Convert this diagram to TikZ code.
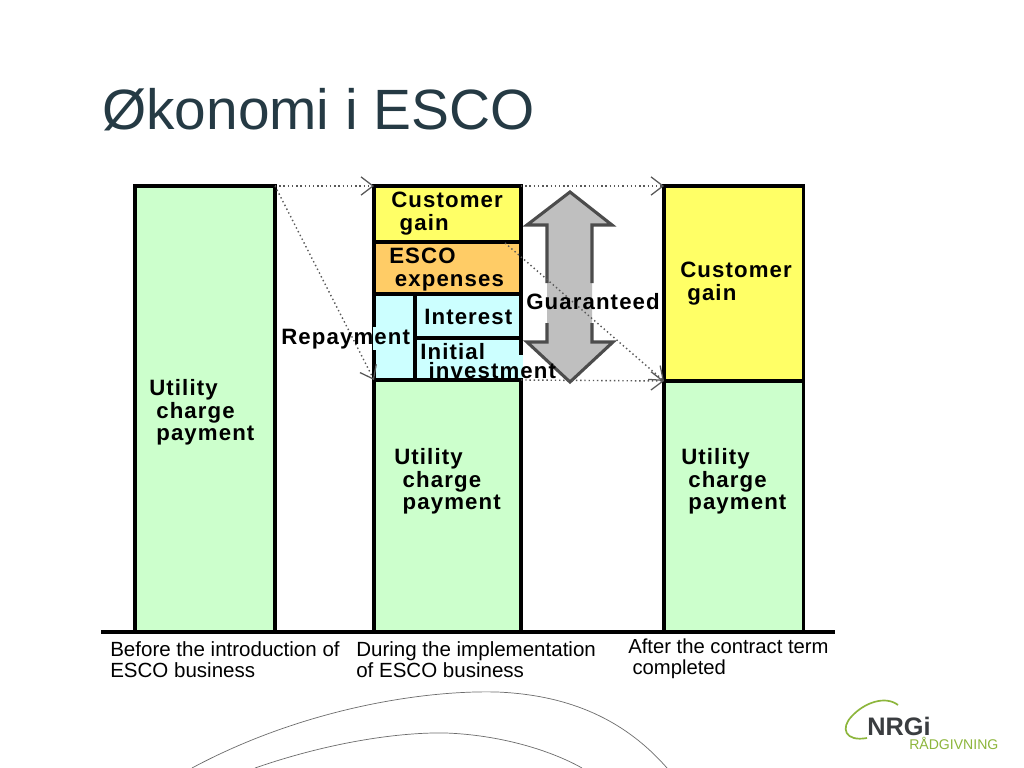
\documentclass[tikz,border=0pt]{standalone}
\usepackage{fontspec}
\setmainfont{Liberation Sans}
\usetikzlibrary{arrows.meta}
\definecolor{barGreen}{HTML}{CCFFCC}
\definecolor{barYellow}{HTML}{FFFF66}
\definecolor{barOrange}{HTML}{FFCC66}
\definecolor{barCyan}{HTML}{CCFFFF}
\definecolor{titleInk}{HTML}{253A44}
\definecolor{logoGreen}{HTML}{8DB63C}
\definecolor{logoInk}{HTML}{3A3D40}
\newfontfamily\boldlabel[LetterSpace=5]{Liberation Sans Bold}
\tikzset{
  barbox/.style={draw=black, line width=2.2pt, anchor=north west, outer sep=0pt, inner sep=0pt},
  barlabel/.style={anchor=west, align=left, inner sep=0pt, font=\boldlabel\fontsize{15.8}{15.9}\selectfont},
  axislabel/.style={anchor=west, align=left, inner sep=0pt, font=\fontsize{14.6}{15}\selectfont},
  flow/.style={dotted, line width=1pt, gray!70!black, -{Straight Barb[length=8.5pt, width=13pt, line width=0.9pt]}},
  sweep/.style={draw=gray!85!black, line width=0.5pt}
}
\begin{document}
\begin{tikzpicture}[x=0.025cm, y=-0.025cm]
        \useasboundingbox[fill=white] (0,0) rectangle (1024,768);
        % Background curves
        \draw[sweep] (192,768) .. controls (300,710) and (420,690) .. (497,692) .. controls (570,695) and (625,720) .. (667,768);
        \draw[sweep] (255,768) .. controls (330,742) and (400,732) .. (446,733) .. controls (500,735) and (550,750) .. (582,768);

        \node[anchor=base west, inner sep=0pt, text=titleInk, font=\fontsize{40.4}{45}\selectfont] (title) at (102,130) {Økonomi i ESCO};

        % Guaranteed arrow
        \fill[gray!50] (570,192) -- (612,225) -- (592,225) -- (592,342) -- (613,342) -- (570,382) -- (527,342) -- (547,342) -- (547,225) -- (527,225) -- cycle;
        \draw[line width=2.2pt, gray!60!black, line join=miter] (592,283) -- (592,225) -- (612,225) -- (570,192) -- (527,225) -- (547,225) -- (547,283);
        \draw[line width=2.2pt, gray!60!black, line join=miter] (592,323) -- (592,342) -- (613,342) -- (570,382) -- (527,342) -- (547,342) -- (547,323);

        % Bars
        \node[barbox, fill=barGreen, minimum width=3.5cm, minimum height=11.15cm] (before) at (135,186) {};

        \node[barbox, fill=barYellow, minimum width=3.675cm, minimum height=1.4cm] (gainMid) at (374,186) {};
        \node[barbox, fill=barOrange, minimum width=3.675cm, minimum height=1.3cm] (esco) at (374,242) {};
        \node[barbox, fill=barCyan, minimum width=1.025cm, minimum height=2.15cm] (repay) at (374,294) {};
        \node[barbox, fill=barCyan, minimum width=2.65cm, minimum height=1.1cm] (interest) at (415,294) {};
        \node[barbox, fill=barCyan, minimum width=2.65cm, minimum height=1.05cm] (initial) at (415,338) {};
        \node[barbox, fill=barGreen, minimum width=3.675cm, minimum height=6.3cm] (during) at (374,380) {};

        \node[barbox, fill=barYellow, minimum width=3.475cm, minimum height=4.875cm] (gainEnd) at (664,186) {};
        \node[barbox, fill=barGreen, minimum width=3.475cm, minimum height=6.275cm] (after) at (664,381) {};

        % Baseline
        \coordinate (axisL) at (101,632);
        \coordinate (axisR) at (835,632);
        \draw[line width=2.2pt] (axisL) -- (axisR);

        % Labels lie over the edges
        \fill[barCyan] (372.5,327) rectangle (376,350);
        \fill[barCyan] (519,355) rectangle (523,378);

        % Dotted flows
        \coordinate (escoStart) at (505,243);
        \draw[flow] (before.north east) -- (gainMid.north west);
        \draw[flow] (before.north east) -- (during.north west);
        \draw[flow] (gainMid.north east) -- (gainEnd.north west);
        \draw[flow] (during.north east) -- (after.north west);
        \draw[flow] (escoStart) -- (after.north west);

        % Bar labels
        \node[barlabel] (utilA) at (149,412.5) {Utility\\\hspace*{5pt}charge\\\hspace*{5pt}payment};
        \node[barlabel] (custB) at (391,213.5) {Customer\\\hspace*{6pt}gain};
        \node[barlabel] (escoText) at (389,269.5) {ESCO\\\hspace*{4pt}expenses};
        \node[barlabel] (repayText) at (281,339) {Repayment};
        \node[barlabel] (interestText) at (424,317) {Interest};
        \node[barlabel, font=\boldlabel\fontsize{15.8}{13}\selectfont] (initialText) at (420,361) {Initial\\\hspace*{6pt}investment};
        \node[barlabel] (utilB) at (394,481.5) {Utility\\\hspace*{6pt}charge\\\hspace*{6pt}payment};
        \node[barlabel] (guarText) at (526,302) {Guaranteed};
        \node[barlabel] (custC) at (680,283.5) {Customer\\\hspace*{5pt}gain};
        \node[barlabel] (utilC) at (681,481.5) {Utility\\\hspace*{5pt}charge\\\hspace*{5pt}payment};

        % Axis labels
        \node[axislabel] (capA) at (110,660) {Before the introduction of\\ESCO business};
        \node[axislabel] (capB) at (356,660) {During the implementation\\of ESCO business};
        \node[axislabel, font=\fontsize{14.4}{15}\selectfont] (capC) at (628,659) {After the contract term\\\hspace*{3pt}completed};

        % Logo
        \draw[logoGreen, line width=1.2pt] (867,738) .. controls (845,742) and (840,728) .. (852,716) .. controls (864,703) and (885,695) .. (898,705);
        \node[anchor=west, inner sep=0pt, text=logoInk, font=\bfseries\fontsize{18}{19}\selectfont] (nrgi) at (867,726) {NRGi};
        \node[anchor=west, inner sep=0pt, text=logoGreen, font=\fontsize{10}{11}\selectfont] (radgiv) at (909,743) {RÅDGIVNING};
    \end{tikzpicture}
\end{document}
